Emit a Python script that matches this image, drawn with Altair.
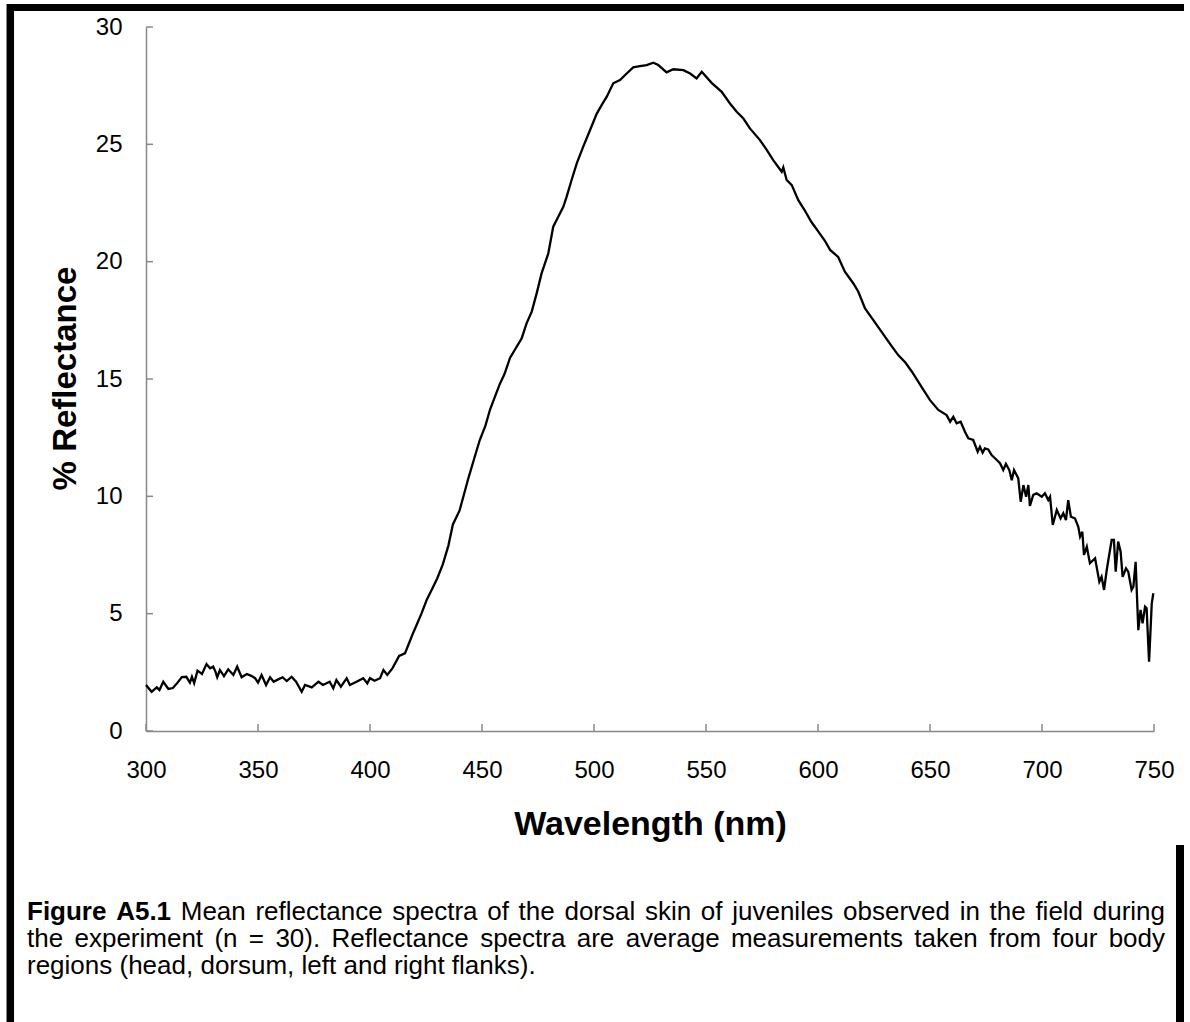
import altair as alt
import pandas as pd

# ---------------- data ----------------
wavelength_nm = [
    300, 302.5, 304.8, 306, 307.7, 310, 312, 314, 316, 318, 319.6, 320.5, 321.5, 323, 325, 327, 328.6, 330,
    331, 331.8, 333, 334.8, 336.7, 339, 340.7, 342.7, 345, 347, 348.7, 350, 351.6, 353.6, 355.4, 357, 359,
    361, 362.8, 365, 367, 369.5, 371, 374, 377, 379, 382, 383.6, 385, 387, 389.6, 391, 394, 397, 398.8,
    400, 402, 404.5, 406, 407.7, 410, 413, 415.6, 418, 419.3, 420.8, 423, 425.3, 428, 430, 432.5, 435,
    437, 438.5, 440, 442, 444, 446.5, 449, 451.5, 453.6, 456, 458, 460, 462.5, 465, 467.7, 469.9, 472.2,
    474.4, 476.6, 479.6, 481.8, 484, 486.3, 487.8, 490, 492.3, 495.2, 498.2, 501.2, 503.4, 505.7, 508.6,
    511.6, 514.6, 517.5, 520.5, 523.5, 526.5, 528.7, 532.4, 535.4, 539.9, 542.9, 545.8, 548.1, 552.5, 557,
    560.7, 563.7, 566.7, 569.6, 574.1, 577.1, 580, 583.8, 584.5, 586, 588.3, 591.2, 594, 597, 600, 603,
    605.4, 609, 612, 615.8, 618, 621, 624.7, 628.4, 632, 635.8, 639, 642, 646, 650, 653.7, 657.4, 659,
    660.4, 661.9, 663.7, 665.6, 667.1, 669.3, 671.3, 672.3, 673.5, 674.5, 676, 677.5, 679.8, 681.25, 682.7,
    683.9, 685.4, 686.5, 687.5, 689.4, 690.5, 691.7, 692.9, 693.9, 694.6, 696.1, 697.6, 699.9, 701.3,
    702.8, 703.6, 704.8, 706.6, 708.3, 709.5, 710.7, 711.7, 712.9, 714.7, 716.2, 717, 718, 718.75, 720,
    721.4, 723.7, 725.6, 726.6, 727.7, 728.9, 731.1, 732.1, 732.9, 734, 735.1, 736, 737.5, 738.5, 740,
    740.8, 741.8, 743, 744, 744.9, 746, 746.7, 747.8, 749, 749.7,
]
reflectance_pct = [
    1.96, 1.67, 1.86, 1.75, 2.10, 1.79, 1.83, 2.05, 2.30, 2.31, 2.06, 2.31, 2.04, 2.57, 2.43, 2.85, 2.67, 2.74,
    2.53, 2.29, 2.60, 2.34, 2.63, 2.39, 2.74, 2.29, 2.43, 2.35, 2.25, 2.06, 2.39, 1.96, 2.29, 2.10, 2.20,
    2.29, 2.13, 2.31, 2.10, 1.67, 1.96, 1.86, 2.10, 1.96, 2.10, 1.82, 2.17, 1.89, 2.25, 1.96, 2.10, 2.25, 2.03,
    2.25, 2.14, 2.25, 2.60, 2.39, 2.67, 3.20, 3.31, 3.88, 4.19, 4.52, 5.01, 5.58, 6.10, 6.50, 7.10, 7.90,
    8.80, 9.10, 9.40, 10.1, 10.8, 11.6, 12.4, 13.0, 13.7, 14.3, 14.8, 15.2, 15.9, 16.3, 16.73, 17.37, 17.87,
    18.65, 19.5, 20.35, 21.49, 21.9, 22.34, 22.77, 23.48, 24.19, 24.9, 25.6, 26.3, 26.67, 27.03, 27.6,
    27.74, 28.02, 28.28, 28.33, 28.38, 28.48, 28.38, 28.07, 28.2, 28.16, 28.02, 27.81, 28.09, 27.62, 27.24,
    26.74, 26.39, 26.1, 25.68, 25.18, 24.76, 24.33, 23.83, 24.02, 23.48, 23.26, 22.62, 22.2, 21.7, 21.3, 20.9,
    20.5, 20.2, 19.57, 19.07, 18.72, 18.01, 17.51, 17.01, 16.52, 16.02, 15.7, 15.3, 14.7, 14.1, 13.68, 13.46, 13.18,
    13.39, 13.11, 13.18, 12.75, 12.47, 12.40, 11.90, 12.11, 11.86, 12.04, 12.00, 11.76, 11.55, 11.41, 11.12,
    11.38, 11.12, 10.69, 11.12, 10.77, 9.77, 10.48, 9.98, 10.48, 9.59, 10.06, 10.13, 9.98, 10.13,
    9.84, 9.98, 8.78, 9.42, 9.06, 9.28, 8.99, 9.84, 9.13, 9.06, 8.70, 8.28, 8.49, 7.50, 7.85,
    7.15, 7.36, 6.36, 6.57, 6.01, 6.86, 8.14, 8.14, 6.79, 8.07, 7.64, 6.57, 6.93, 6.79, 6.01,
    6.15, 7.21, 4.30, 5.16, 4.59, 5.30, 5.23, 2.95, 5.44, 5.87,
]
x_ticks = [300, 350, 400, 450, 500, 550, 600, 650, 700, 750]
y_ticks = [0, 5, 10, 15, 20, 25, 30]
x_title = "Wavelength (nm)"
y_title = "% Reflectance"
caption_bold = "Figure A5.1"
caption_line1 = "Mean reflectance spectra of the dorsal skin of juveniles observed in the field during"
caption_line2 = "the experiment (n = 30). Reflectance spectra are average measurements taken from four body"
caption_line3 = "regions (head, dorsum, left and right flanks)."

# ---------------- layout ----------------
W, H = 1008, 704
PAD = {"left": 146, "top": 27, "right": 36, "bottom": 291}
FONT = "Liberation Sans, Arial, Helvetica, sans-serif"
AXIS_GREY = "#888888"
CAP_SIZE = 26
CAP_LEFT = 27 - PAD["left"]      # caption left edge, relative to plot origin
CAP_RIGHT = 1165 - PAD["left"]   # justified right edge
CAP_BASE = [920 - PAD["top"], 947 - PAD["top"], 974 - PAD["top"]]

# Liberation Sans (Arial-metric) advance widths, per 1000 em, for justification
REG_W = {" ": 278, "(": 333, ")": 333, ",": 278, ".": 278, "=": 584, "R": 722, "M": 833,
         "a": 556, "b": 556, "c": 500, "d": 556, "e": 556, "f": 278, "g": 556, "h": 556,
         "i": 222, "j": 222, "k": 500, "l": 222, "m": 833, "n": 556, "o": 556, "p": 556,
         "r": 333, "s": 500, "t": 278, "u": 556, "v": 500, "w": 722, "x": 500, "y": 500}
BOLD_W = {" ": 278, "F": 611, "i": 278, "g": 611, "u": 611, "r": 389, "e": 556, "A": 722, ".": 278}
for d in "0123456789":
    REG_W[d] = 556
    BOLD_W[d] = 556


def word_width(word, bold):
    table = BOLD_W if bold else REG_W
    return sum(table.get(ch, 556) for ch in word) * CAP_SIZE / 1000.0


def layout_line(segments, y, justify):
    """segments: list of (text, bold). Returns list of word rows with pixel x."""
    words = []
    for text, bold in segments:
        for w in text.split(" "):
            words.append((w, bold))
    widths = [word_width(w, b) for w, b in words]
    space = REG_W[" "] * CAP_SIZE / 1000.0
    gaps = len(words) - 1
    if justify and gaps > 0:
        space = (CAP_RIGHT - CAP_LEFT - sum(widths)) / gaps
    rows, x = [], CAP_LEFT
    for (w, b), wd in zip(words, widths):
        rows.append({"word": w, "px": x, "py": y, "bold": b})
        x += wd + space
    return rows


cap_rows = (
    layout_line([(caption_bold, True), (caption_line1, False)], CAP_BASE[0], True)
    + layout_line([(caption_line2, False)], CAP_BASE[1], True)
    + layout_line([(caption_line3, False)], CAP_BASE[2], False)
)
cap_df = pd.DataFrame(cap_rows)

xscale = alt.Scale(domain=[300, 750], nice=False, zero=False)
yscale = alt.Scale(domain=[0, 30], nice=False, zero=False)

x_axis = alt.Axis(
    values=x_ticks, title=x_title, grid=False, ticks=False, tickSize=0,
    domainColor=AXIS_GREY, domainWidth=1.5,
    labelFont=FONT, labelFontSize=24, labelColor="black", labelPadding=27,
    labelFlush=False, labelOverlap=False,
    titleFont=FONT, titleFontSize=34, titleFontWeight="bold", titleColor="black",
    titleX=W / 2, titleY=103, titleAlign="center", titleBaseline="alphabetic",
)
y_axis = alt.Axis(
    values=y_ticks, title=y_title, grid=False, ticks=False, tickSize=0,
    domainColor=AXIS_GREY, domainWidth=1.5,
    labelFont=FONT, labelFontSize=24, labelColor="black", labelPadding=24,
    labelFlush=False, labelOverlap=False,
    titleFont=FONT, titleFontSize=33, titleFontWeight="bold", titleColor="black",
    titleX=-71, titleY=351, titleAngle=270, titleAlign="center", titleBaseline="alphabetic",
)

spec_df = pd.DataFrame({"nm": wavelength_nm, "r": reflectance_pct})

line = alt.Chart(spec_df).mark_line(color="black", strokeWidth=2.3, clip=False).encode(
    x=alt.X("nm:Q", scale=xscale, axis=x_axis),
    y=alt.Y("r:Q", scale=yscale, axis=y_axis),
)

# inward tick marks, positioned through the same scales
ytick_layer = alt.Chart(pd.DataFrame({"r": y_ticks})).mark_rule(color=AXIS_GREY, strokeWidth=1.5).encode(
    y=alt.Y("r:Q", scale=yscale, axis=y_axis), x=alt.value(0), x2=alt.value(7)
)
xtick_layer = alt.Chart(pd.DataFrame({"nm": x_ticks})).mark_rule(color=AXIS_GREY, strokeWidth=1.5).encode(
    x=alt.X("nm:Q", scale=xscale, axis=x_axis), y=alt.value(H), y2=alt.value(H - 7)
)

one = pd.DataFrame({"k": [0]})


def frame_rule(x1, x2, y1, y2, w):
    return alt.Chart(one).mark_rule(color="black", strokeWidth=w, strokeCap="butt").encode(
        x=alt.value(x1), x2=alt.value(x2), y=alt.value(y1), y2=alt.value(y2)
    )


frame_top = frame_rule(-139, 1038, -19.5, -19.5, 7)
frame_left = frame_rule(-135.7, -135.7, -23, 995, 7.5)
frame_right = frame_rule(1034, 1034, 818, 995, 8)


def caption_layer(bold):
    return alt.Chart(cap_df).transform_filter(
        alt.datum.bold if bold else ~alt.datum.bold
    ).mark_text(
        align="left", baseline="alphabetic", font=FONT, fontSize=CAP_SIZE,
        fontWeight="bold" if bold else "normal", color="black",
    ).encode(
        x=alt.X("px:Q", scale=None), y=alt.Y("py:Q", scale=None), text="word:N"
    )


chart = alt.layer(
    line, ytick_layer, xtick_layer, frame_top, frame_left, frame_right,
    caption_layer(True), caption_layer(False),
).properties(
    width=W, height=H, padding=PAD, autosize=alt.AutoSizeParams(type="none"),
).configure(background="white").configure_view(stroke=None)

chart.save("out.html", embed_options={"renderer": "svg", "actions": False})
